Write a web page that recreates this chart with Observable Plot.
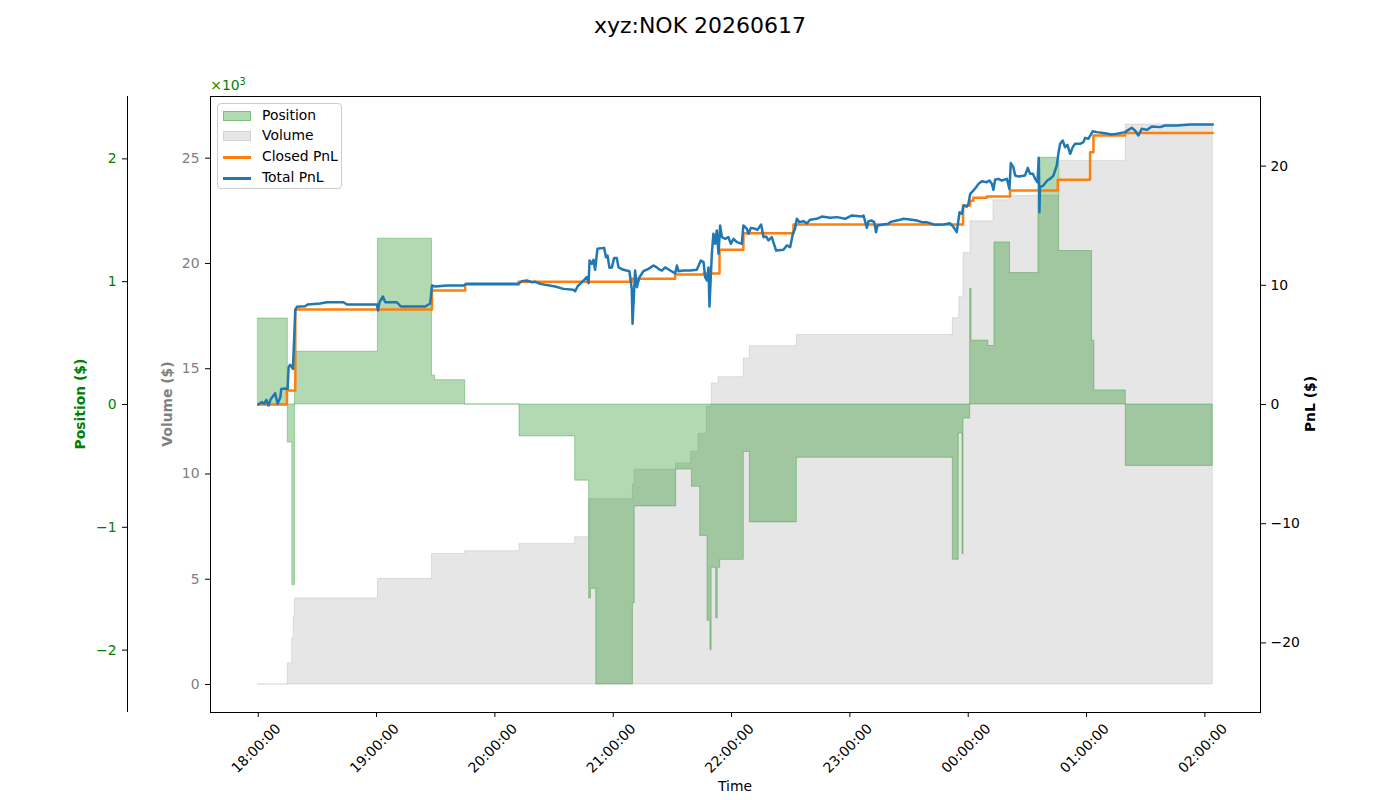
<!DOCTYPE html>
<html><head><meta charset="utf-8">
<script src="https://cdn.jsdelivr.net/npm/d3@7"></script>
<script src="https://cdn.jsdelivr.net/npm/@observablehq/plot@0.6"></script>
<style>
body{margin:0;background:#fff;font-family:"DejaVu Sans",sans-serif;}
#wrap{position:relative;width:1400px;height:800px;overflow:hidden;background:#fff;}
#wrap svg{position:absolute;left:0;top:0;}
.lbl{position:absolute;white-space:nowrap;font-size:13.9px;line-height:1;}
</style></head><body><div id="wrap"></div>
<script>
// ---- data (minutes after 18:00 on 2026-06-17) ----
const posMin = [0,15.0,17.3,18.6,60.7,88.1,89.7,104.9,132.5,160.7,167.8,168.7,171.4,190.0,190.9,211.9,219.9,224.1,227.8,229.3,229.9,232.2,233.0,234.2,246.2,249.3,273.1,352.2,355.2,357.1,357.6,361.0,361.7,370.2,373.3,381.2,395.6,406.1,422.8,424.0,439.9,484.0];
const posVal = [0.70,-0.31,-1.47,0.43,1.35,0.235,0.198,0,-0.26,-0.62,-1.58,-1.50,-2.28,-1.62,-0.83,-0.53,-0.67,-1.07,-1.76,-2.0,-1.33,-1.74,-1.33,-1.265,-0.387,-0.96,-0.434,-1.265,-0.236,-1.22,-0.115,0.94,0.52,0.476,1.32,1.07,2.01,1.25,0.52,0.115,-0.50,-0.50];

const volMin = [0,15.0,17.2,18.0,18.6,60.7,88.1,104.9,132.5,160.7,167.8,190.0,190.9,211.9,219.5,223.2,227.5,230.0,233.4,246.2,249.3,273.1,352.2,355.5,357.6,361.2,372.8,381.2,406.6,439.9,484.0];
const volVal = [0,1000,2200,3200,4090,5020,6200,6330,6670,7000,8800,9500,10200,10500,11050,11900,13200,14300,14600,15480,16070,16600,17400,18400,20500,22000,23000,23200,24870,26600,26600];

const closedMin = [0,14.55,18.8,88.1,104.9,132.0,189.5,211.4,225.8,233.9,246.0,271.4,357.4,361.0,362.6,369.4,381.2,405.4,421.8,423.5,439.5,484.0];
const closedVal = [0,1.17,7.97,9.56,10.07,10.3,10.54,10.9,11.0,12.98,14.37,15.1,16.7,17.1,17.34,17.45,17.95,18.85,21.17,22.57,22.77,22.77];

const totMin = [0.0,1.9,3.0,4.1,5.2,6.4,8.6,9.8,11.2,11.7,13.7,14.9,15.4,16.2,17.6,18.8,19.6,23.8,25.0,31.4,34.8,43.2,45.0,60.2,60.7,61.5,63.2,64.4,70.3,72.3,84.7,87.2,88.1,89.7,95.7,104.1,105.5,122.7,
132.0,133.7,136.2,138.8,140.4,143.0,150.6,154.8,159.8,160.7,161.9,164.9,166.6,167.5,168.0,169.2,170.0,170.8,172.0,175.4,176.3,177.1,178.1,179.3,180.5,181.8,182.7,185.2,188.2,189.4,189.8,190.6,191.1,192.0,193.3,195.3,197.9,200.4,202.1,202.9,204.7,206.3,208.9,211.4,212.3,213.1,215.6,219.0,222.4,224.4,225.8,226.6,227.5,228.3,228.8,230.0,230.8,231.7,232.5,233.4,234.2,235.1,236.8,238.4,239.6,241.0,242.7,
245.2,246.0,247.8,248.6,249.8,252.0,253.1,255.0,256.2,257.5,258.7,260.4,261.2,262.6,266.3,268.0,269.7,271.1,272.2,273.1,274.4,276.4,278.2,279.8,283.2,285.8,290.0,293.4,297.6,301.0,306.1,306.9,308.6,309.4,311.1,312.3,313.3,314.0,317.0,319.6,320.4,322.1,325.5,327.2,331.4,333.9,336.5,339.0,340.7,343.2,347.4,350.8,352.5,354.2,355.6,356.8,357.6,359.3,360.1,361.0,362.6,
364.0,365.2,366.9,369.4,370.8,372.0,372.8,373.6,375.3,377.0,379.6,380.9,381.6,382.9,383.8,385.5,388.8,390.2,391.4,392.8,393.9,395.1,395.8,396.1,396.4,398.1,400.1,401.5,403.2,404.9,405.7,406.6,407.9,409.1,410.3,411.7,413.0,414.2,416.7,418.4,419.3,420.9,423.2,425.2,428.6,432.8,435.4,439.5,441.2,442.9,444.6,446.3,448.0,450.6,453.1,457.3,459.8,465.8,472.5,484.0];
const totVal = [0,0.2,0.06,0.39,-0.08,0.47,0.95,0.06,0.61,1.31,1.35,1.31,3.13,3.33,2.99,7.94,8.2,8.25,8.39,8.47,8.58,8.58,8.39,8.39,7.89,8.58,9.06,8.58,8.58,8.22,8.22,8.47,9.98,9.9,9.98,9.98,10.12,10.12,
10.12,10.35,10.4,10.26,10.3,10.12,9.9,9.7,9.62,9.5,9.9,10.4,10.68,10.18,12.08,11.8,12.14,11.3,13.06,13.14,12.36,12.5,11.47,11.5,12.3,12.3,11.5,11.3,11.18,9.7,6.77,9.56,11.24,9.84,10.68,11.18,11.38,11.66,11.5,11.38,11.24,11.5,11.24,11.0,11.66,11.18,11.24,11.24,11.3,12.08,11.94,10.68,10.4,11.5,8.22,12.64,14.32,13.48,14.6,12.64,15.02,14.04,13.9,14.04,13.48,13.9,13.62,
13.48,15.02,14.74,14.32,14.82,14.74,14.65,15.1,14.04,14.1,13.76,14.04,13.62,12.92,12.98,13.34,13.2,14.32,14.74,15.58,15.3,15.38,15.2,15.5,15.58,15.77,15.66,15.72,15.58,15.86,15.77,15.86,14.82,15.38,15.44,15.3,14.46,15.02,15.1,15.16,15.3,15.38,15.5,15.58,15.5,15.44,15.3,15.3,15.2,15.07,15.1,15.2,14.9,14.46,16.13,16.0,16.69,16.6,16.83,17.67,17.95,
18.23,18.51,18.73,18.65,18.79,18.51,18.01,18.85,18.93,18.79,18.93,18.09,20.25,19.91,19.21,19.12,19.21,19.85,19.35,19.35,18.93,18.65,20.69,16.13,18.23,18.37,18.79,18.93,19.21,20.05,21.03,21.87,22.15,21.59,21.78,21.03,21.59,21.87,21.87,22.01,22.37,22.29,22.93,22.85,22.77,22.65,22.71,22.85,23.04,23.21,22.99,22.57,23.13,23.04,23.32,23.27,23.41,23.41,23.49,23.49];

const xTickHours = [0,1,2,3,4,5,6,7,8];   // hours after 18:00
const posTicks = [-2,-1,0,1,2];
const volTicks = [0,5000,10000,15000,20000,25000];
const pnlTicks = [-20,-10,0,10,20];
const legendLabels = ["Position","Volume","Closed PnL","Total PnL"];

// ---- helpers ----
const START = Date.UTC(2026,5,17,18,0,0);
const toDate = m => new Date(START + m*60000);
const zip = (ms, vs) => ms.map((m,i) => ({t: toDate(m), v: vs[i]}));
const posData = zip(posMin, posVal);
const volData = zip(volMin, volVal);
const closedData = zip(closedMin, closedVal);
const totData = zip(totMin, totVal);
const xTicks = xTickHours.map(h => toDate(h*60));
const span = d3.max(totMin) - d3.min(totMin);
const xDomain = [toDate(-0.05*span), toDate(d3.max(totMin) + 0.05*span)];
const posLim = 1.1*d3.max(posVal, Math.abs);
const pnlLim = 1.1*d3.max(totVal.concat(closedVal), Math.abs);
const vMax = d3.max(volVal);
const volDomain = [-0.05*vMax, 1.05*vMax];
const fmtT = d3.utcFormat("%H:%M:%S");
const fmtN = d3.format("d");

const common = {
  width:1400, height:800, marginLeft:210, marginRight:140, marginTop:96, marginBottom:88,
  style:{background:"none", fontFamily:"DejaVu Sans", fontSize:"13.9px", overflow:"visible"}
};

const wrap = document.getElementById("wrap");

// Volume layer
wrap.append(Plot.plot({...common,
  x:{type:"utc", domain:xDomain, axis:null},
  y:{domain:volDomain},
  marks:[
    Plot.areaY(volData, {x:"t", y:"v", curve:"step-after", fill:"gray", fillOpacity:0.2, stroke:"gray", strokeOpacity:0.2}),
    Plot.axisY({anchor:"left", ticks:volTicks, tickSize:5, tickPadding:6, tickFormat:d => fmtN(d/1000), fill:"gray", stroke:"black", label:null})
  ]
}));

// Position layer
wrap.append(Plot.plot({...common,
  x:{type:"utc", domain:xDomain, axis:null},
  y:{domain:[-posLim, posLim]},
  marks:[
    Plot.areaY(posData, {x:"t", y:"v", curve:"step-after", fill:"green", fillOpacity:0.3, stroke:"green", strokeOpacity:0.3}),
    Plot.ruleX([xDomain[0]], {dx:-83, stroke:"black"}),
    Plot.axisY({anchor:"left", ticks:posTicks, tickSize:5, tickPadding:6, dx:-83, tickFormat:fmtN, fill:"green", stroke:"black", label:null})
  ]
}));

// PnL layer
wrap.append(Plot.plot({...common,
  x:{type:"utc", domain:xDomain},
  y:{domain:[-pnlLim, pnlLim]},
  marks:[
    Plot.lineY(closedData, {x:"t", y:"v", curve:"step-after", stroke:"#ff7f0e", strokeWidth:2.5}),
    Plot.lineY(totData, {x:"t", y:"v", stroke:"#1f77b4", strokeWidth:2.5}),
    Plot.frame({stroke:"black"}),
    Plot.axisY({anchor:"right", ticks:pnlTicks, tickSize:5, tickPadding:5, tickFormat:fmtN, label:null}),
    Plot.axisX({ticks:xTicks, tickSize:5, fill:"none", label:null}),
    Plot.text(xTicks, {x:d => d, text:d => fmtT(d), frameAnchor:"bottom", dy:36, dx:-2, rotate:-45, textAnchor:"middle", lineAnchor:"middle"})
  ]
}));

// ---- text labels ----
function label(txt, cx, cy, css) {
  const d = document.createElement("div");
  d.className = "lbl";
  d.innerHTML = txt;
  d.style.left = cx + "px";
  d.style.top = cy + "px";
  d.style.transform = "translate(-50%,-50%)" + (css.rot ? " rotate(-90deg)" : "");
  Object.assign(d.style, css.style || {});
  wrap.append(d);
}
label("xyz:NOK 20260617", 700, 26, {style:{fontSize:"22px"}});
label("Position ($)", 81, 404, {rot:true, style:{color:"green", fontWeight:"bold"}});
label("Volume ($)", 167.5, 404, {rot:true, style:{color:"gray", fontWeight:"bold"}});
label("PnL ($)", 1311, 404, {rot:true, style:{color:"black", fontWeight:"bold"}});
label("Time", 735, 787, {});
label("×10<sup style='font-size:9.7px'>3</sup>", 228, 85, {style:{color:"green"}});

// ---- legend ----
const lg = document.createElement("div");
Object.assign(lg.style, {position:"absolute", left:"217px", top:"103px", width:"125px", height:"86px",
  border:"1px solid #cccccc", borderRadius:"4px", background:"rgba(255,255,255,0.8)", boxSizing:"border-box"});
const swatches = [
  {type:"patch", fill:"rgba(0,128,0,0.3)", stroke:"rgba(0,128,0,0.3)"},
  {type:"patch", fill:"rgba(128,128,128,0.2)", stroke:"rgba(128,128,128,0.2)"},
  {type:"line", color:"#ff7f0e"},
  {type:"line", color:"#1f77b4"}
];
legendLabels.forEach((name, i) => {
  const cy = Math.round(11.5 + i*20.7);
  const sw = document.createElement("div");
  const s = swatches[i];
  if (s.type === "patch") {
    Object.assign(sw.style, {position:"absolute", left:"5px", top:(cy-5)+"px", width:"28px", height:"10px",
      background:s.fill, border:"1px solid "+s.stroke, boxSizing:"border-box"});
  } else {
    Object.assign(sw.style, {position:"absolute", left:"5px", top:(cy-1)+"px", width:"28px", height:"3px", background:s.color});
  }
  lg.append(sw);
  const t = document.createElement("div");
  t.className = "lbl";
  t.textContent = name;
  Object.assign(t.style, {left:"44px", top:cy+"px", transform:"translateY(-50%)"});
  lg.append(t);
});
wrap.append(lg);
</script>
</body></html>
